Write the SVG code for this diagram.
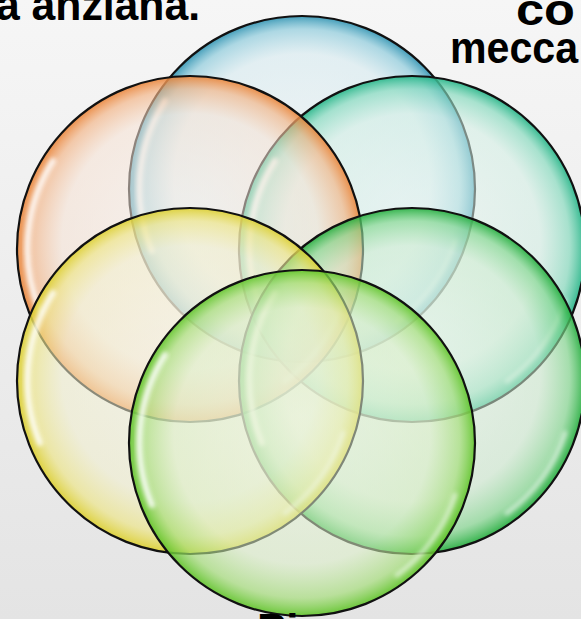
<svg xmlns="http://www.w3.org/2000/svg" width="581" height="619" viewBox="0 0 581 619">
<style>
  .rim { stroke: #111111; stroke-width: 2.2; }
  .hl { fill: none; stroke: #ffffff; stroke-width: 6; stroke-linecap: round; opacity: 0.85; filter: url(#blur); }
  .hl2 { fill: none; stroke: #ffffff; stroke-width: 5; stroke-linecap: round; opacity: 0.55; filter: url(#blur); }
  .t { font-family: "Liberation Sans", Arial, sans-serif; font-weight: bold; font-size: 44px; fill: #000; }
</style>
<defs>
  <linearGradient id="bg" x1="0" y1="0" x2="0" y2="1">
    <stop offset="0" stop-color="#f6f6f6"/>
    <stop offset="1" stop-color="#e4e4e4"/>
  </linearGradient>
  <filter id="blur" x="-20%" y="-20%" width="140%" height="140%">
    <feGaussianBlur stdDeviation="2.2"/>
  </filter>
  <radialGradient id="gBlue" cx="0.5" cy="0.5" r="0.5" fx="0.5" fy="0.42">
    <stop offset="0" stop-color="#e8f3f6" stop-opacity="0.5"/>
    <stop offset="0.74" stop-color="#d3eaf0" stop-opacity="0.55"/>
    <stop offset="0.91" stop-color="#86c8da" stop-opacity="0.65"/>
    <stop offset="1" stop-color="#2f93b2" stop-opacity="0.9"/>
  </radialGradient>
  <radialGradient id="gOrange" cx="0.5" cy="0.5" r="0.5" fx="0.5" fy="0.42">
    <stop offset="0" stop-color="#fbf1ea" stop-opacity="0.5"/>
    <stop offset="0.74" stop-color="#f7e2d3" stop-opacity="0.55"/>
    <stop offset="0.91" stop-color="#f3b282" stop-opacity="0.65"/>
    <stop offset="1" stop-color="#ea8438" stop-opacity="0.9"/>
  </radialGradient>
  <radialGradient id="gTeal" cx="0.5" cy="0.5" r="0.5" fx="0.5" fy="0.42">
    <stop offset="0" stop-color="#eaf7f2" stop-opacity="0.5"/>
    <stop offset="0.74" stop-color="#d1efe4" stop-opacity="0.55"/>
    <stop offset="0.91" stop-color="#80d9bb" stop-opacity="0.65"/>
    <stop offset="1" stop-color="#22b486" stop-opacity="0.9"/>
  </radialGradient>
  <radialGradient id="gYellow" cx="0.5" cy="0.5" r="0.5" fx="0.5" fy="0.42">
    <stop offset="0" stop-color="#f7f7e6" stop-opacity="0.5"/>
    <stop offset="0.74" stop-color="#f2f0cc" stop-opacity="0.55"/>
    <stop offset="0.91" stop-color="#ede582" stop-opacity="0.65"/>
    <stop offset="1" stop-color="#dccf2e" stop-opacity="0.9"/>
  </radialGradient>
  <radialGradient id="gGreen" cx="0.5" cy="0.5" r="0.5" fx="0.5" fy="0.42">
    <stop offset="0" stop-color="#e8f6e9" stop-opacity="0.5"/>
    <stop offset="0.74" stop-color="#cdeccf" stop-opacity="0.55"/>
    <stop offset="0.91" stop-color="#7fd68b" stop-opacity="0.65"/>
    <stop offset="1" stop-color="#22ad3c" stop-opacity="0.9"/>
  </radialGradient>
  <radialGradient id="gLime" cx="0.5" cy="0.5" r="0.5" fx="0.5" fy="0.42">
    <stop offset="0" stop-color="#ecf6e2" stop-opacity="0.5"/>
    <stop offset="0.74" stop-color="#dbefc6" stop-opacity="0.55"/>
    <stop offset="0.91" stop-color="#a2dd74" stop-opacity="0.65"/>
    <stop offset="1" stop-color="#5fc428" stop-opacity="0.9"/>
  </radialGradient>
  <path id="hlLeft" d="M -150 62 A 163 163 0 0 1 -137 -88"/>
  <path id="hlRight" d="M 153 52 A 163 163 0 0 1 95 132"/>
</defs>

<rect x="0" y="0" width="581" height="619" fill="url(#bg)"/>

<g id="node-blue" transform="translate(302,189)">
  <circle r="173" fill="url(#gBlue)" class="rim"/>
  <use href="#hlLeft" class="hl"/>
  <use href="#hlRight" class="hl2"/>
</g>
<g id="node-teal" transform="translate(412,249)">
  <circle r="173" fill="url(#gTeal)" class="rim"/>
  <use href="#hlLeft" class="hl"/>
  <use href="#hlRight" class="hl2"/>
</g>
<g id="node-orange" transform="translate(190,249)">
  <circle r="173" fill="url(#gOrange)" class="rim"/>
  <use href="#hlLeft" class="hl"/>
  <use href="#hlRight" class="hl2"/>
</g>
<g id="node-green" transform="translate(412,381)">
  <circle r="173" fill="url(#gGreen)" class="rim"/>
  <use href="#hlLeft" class="hl"/>
  <use href="#hlRight" class="hl2"/>
</g>
<g id="node-yellow" transform="translate(190,381)">
  <circle r="173" fill="url(#gYellow)" class="rim"/>
  <use href="#hlLeft" class="hl"/>
  <use href="#hlRight" class="hl2"/>
</g>
<g id="node-lime" transform="translate(302,443)">
  <circle r="173" fill="url(#gLime)" class="rim"/>
  <use href="#hlLeft" class="hl"/>
  <use href="#hlRight" class="hl2"/>
</g>

<g id="labels">
  <text class="t" x="-4" y="20" textLength="204" lengthAdjust="spacingAndGlyphs">a anziana.</text>
  <text class="t" x="516" y="25" textLength="59" lengthAdjust="spacingAndGlyphs">co</text>
  <text class="t" x="450" y="63" textLength="128" lengthAdjust="spacingAndGlyphs">mecca</text>
  <text class="t" x="257" y="645">Pi</text>
</g>
</svg>
